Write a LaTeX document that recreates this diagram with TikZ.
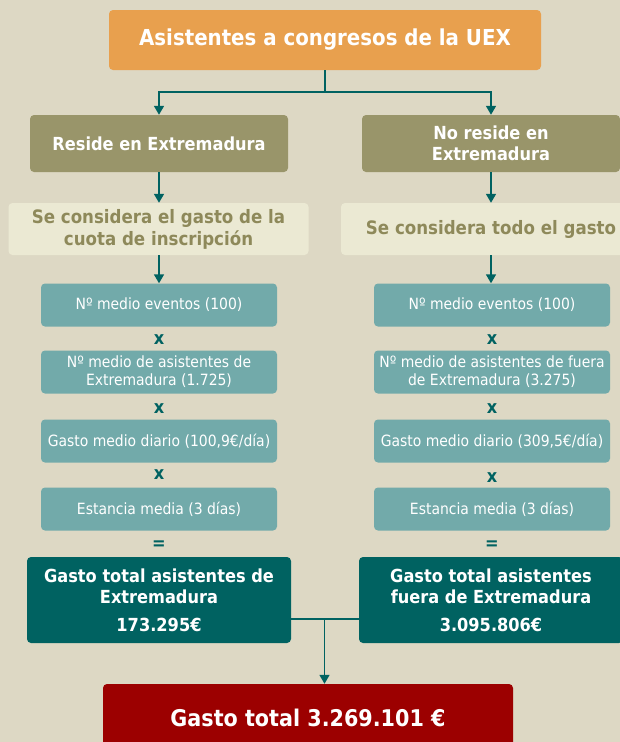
\documentclass[tikz,border=0pt]{standalone}
\usepackage{fontspec}
\setmainfont{DejaVu Sans}[FakeStretch=0.9]
\usetikzlibrary{arrows.meta}
\definecolor{fondo}{HTML}{DDD8C4}
\definecolor{naranja}{HTML}{E8A04E}
\definecolor{oliva}{HTML}{99956A}
\definecolor{crema}{HTML}{EBE9D3}
\definecolor{olivatxt}{HTML}{8E895A}
\definecolor{verdeclaro}{HTML}{72AAAA}
\definecolor{verdeosc}{HTML}{006261}
\definecolor{rojo}{HTML}{9C0000}
\begin{document}
\begin{tikzpicture}[x=1pt,y=-1pt,
  caja/.style={rounded corners=4pt,inner sep=0pt,align=center},
  titulo/.style={caja,fill=naranja,text=white,minimum width=432pt,minimum height=60pt,font=\bfseries\fontsize{22}{26}\selectfont},
  reside/.style={caja,fill=oliva,text=white,minimum width=258pt,minimum height=57pt,font=\bfseries\fontsize{18}{21}\selectfont},
  gasto/.style={caja,fill=crema,text=olivatxt,minimum width=300pt,minimum height=52pt,font=\bfseries\fontsize{18.5}{22}\selectfont},
  dato/.style={caja,fill=verdeclaro,text=white,minimum width=236pt,minimum height=43pt,font=\fontsize{15.5}{18}\selectfont},
  op/.style={text=verdeosc,inner sep=0pt,font=\bfseries\fontsize{18}{18}\selectfont},
  total/.style={caja,fill=verdeosc,text=white,minimum width=264pt,minimum height=86pt,font=\bfseries\fontsize{18}{21}\selectfont},
  final/.style={caja,fill=rojo,text=white,minimum width=410pt,minimum height=68pt,font=\bfseries\fontsize{23}{26}\selectfont},
  flecha/.style={draw=verdeosc,line width=1.6pt,-{Triangle[width=10pt,length=9pt]}}]
\useasboundingbox (0,0) rectangle (620,742);
\fill[fondo] (0,0) rectangle (620,742);

\node[titulo] (1) at (325,40) {Asistentes a congresos de la UEX};

\node[reside] (2) at (159,143.5) {Reside en Extremadura};
\node[reside] (3) at (491,143.5) {No reside en\\Extremadura};

\node[gasto] (4) at (158.5,229) {Se considera el gasto de la\\cuota de inscripción};
\node[gasto] (5) at (491,229) {Se considera todo el gasto};

\node[dato] (6) at (159,305) {Nº medio eventos (100)};
\node[op] (x1) at (159,340) {x};
\node[dato] (7) at (159,372) {Nº medio de asistentes de\\Extremadura (1.725)};
\node[op] (x2) at (159,409) {x};
\node[dato] (8) at (159,441) {Gasto medio diario (100,9€/día)};
\node[op] (x3) at (159,475) {x};
\node[dato] (9) at (159,509) {Estancia media (3 días)};
\node[op] (e1) at (159,545) {=};

\node[dato] (10) at (492,305) {Nº medio eventos (100)};
\node[op] (x4) at (492,340) {x};
\node[dato] (11) at (492,372) {Nº medio de asistentes de fuera\\de Extremadura (3.275)};
\node[op] (x5) at (492,409) {x};
\node[dato] (12) at (492,441) {Gasto medio diario (309,5€/día)};
\node[op] (x6) at (492,478) {x};
\node[dato] (13) at (492,509) {Estancia media (3 días)};
\node[op] (e2) at (492,545) {=};

\node[total] (14) at (159,600) {Gasto total asistentes de\\Extremadura\\[7pt]173.295€};
\node[total] (15) at (491,600) {Gasto total asistentes\\fuera de Extremadura\\[7pt]3.095.806€};

\node[final] (16) at (308,718) {Gasto total 3.269.101 €};

\draw[flecha] (1.south) -- ++(0,22) -| (2.north);
\draw[flecha] (1.south) -- ++(0,22) -| (3.north);
\draw[flecha] (2.south) -- (4.north -| 2.south);
\draw[flecha] (3.south) -- (5.north -| 3.south);
\draw[flecha] (4.south -| 2.south) -- (6.north);
\draw[flecha] (5.south -| 3.south) -- (6.north -| 3.south);

\coordinate (j) at (324.5,619);
\draw[draw=verdeosc,line width=1.6pt] (14.east |- j) -- (15.west |- j);
\draw[flecha] (j) -- (j |- 16.north);
\end{tikzpicture}
\end{document}
